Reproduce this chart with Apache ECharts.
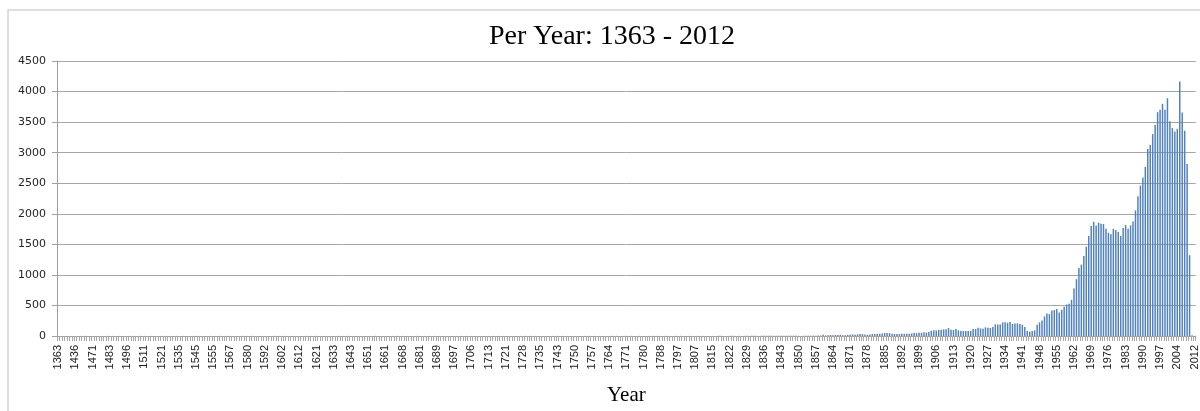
<!DOCTYPE html>
<html>
<head>
<meta charset="utf-8">
<title>Per Year: 1363 - 2012</title>
<script src="https://cdn.jsdelivr.net/npm/echarts@6/dist/echarts.min.js"></script>
<style>
  html, body { margin: 0; padding: 0; background: #fff; }
  #chart { width: 1200px; height: 411px; }
</style>
</head>
<body>
<div id="chart"></div>
<script>
// Years that have at least one record (rows of seven = one labelled tick each)
const years = [
  1363,1377,1390,1402,1415,1423,1430,
  1436,1440,1447,1453,1459,1464,1468,
  1471,1472,1474,1476,1478,1480,1482,
  1483,1485,1487,1489,1491,1493,1494,
  1496,1498,1500,1502,1504,1507,1509,
  1511,1512,1514,1515,1517,1518,1520,
  1521,1523,1525,1527,1529,1531,1533,
  1535,1536,1538,1539,1541,1542,1544,
  1545,1546,1548,1549,1551,1552,1554,
  1555,1557,1559,1560,1562,1564,1565,
  1567,1569,1571,1573,1575,1577,1578,
  1580,1582,1584,1585,1587,1589,1590,
  1592,1593,1595,1596,1598,1599,1601,
  1602,1603,1605,1606,1608,1609,1611,
  1612,1613,1614,1616,1617,1618,1620,
  1621,1623,1625,1627,1628,1630,1632,
  1633,1634,1636,1637,1639,1640,1642,
  1643,1644,1645,1647,1648,1649,1650,
  1651,1652,1654,1655,1657,1658,1660,
  1661,1662,1663,1664,1665,1666,1667,
  1668,1670,1672,1674,1676,1677,1679,
  1681,1682,1683,1685,1686,1687,1688,
  1689,1690,1691,1693,1694,1695,1696,
  1697,1698,1699,1700,1702,1703,1704,
  1706,1707,1708,1709,1710,1711,1712,
  1713,1714,1715,1716,1718,1719,1720,
  1721,1722,1723,1724,1725,1726,1727,
  1728,1729,1730,1731,1732,1733,1734,
  1735,1736,1737,1738,1740,1741,1742,
  1743,1744,1745,1746,1747,1748,1749,
  1750,1751,1752,1753,1754,1755,1756,
  1757,1758,1759,1760,1761,1762,1763,
  1764,1765,1766,1767,1768,1769,1770,
  1771,1772,1773,1775,1776,1777,1779,
  1780,1781,1782,1783,1785,1786,1787,
  1788,1789,1790,1792,1793,1794,1796,
  1797,1798,1800,1801,1803,1804,1806,
  1807,1808,1809,1810,1812,1813,1814,
  1815,1816,1817,1818,1819,1820,1821,
  1822,1823,1824,1825,1826,1827,1828,
  1829,1830,1831,1832,1833,1834,1835,
  1836,1837,1838,1839,1840,1841,1842,
  1843,1844,1845,1846,1847,1848,1849,
  1850,1851,1852,1853,1854,1855,1856,
  1857,1858,1859,1860,1861,1862,1863,
  1864,1865,1866,1867,1868,1869,1870,
  1871,1872,1873,1874,1875,1876,1877,
  1878,1879,1880,1881,1882,1883,1884,
  1885,1886,1887,1888,1889,1890,1891,
  1892,1893,1894,1895,1896,1897,1898,
  1899,1900,1901,1902,1903,1904,1905,
  1906,1907,1908,1909,1910,1911,1912,
  1913,1914,1915,1916,1917,1918,1919,
  1920,1921,1922,1923,1924,1925,1926,
  1927,1928,1929,1930,1931,1932,1933,
  1934,1935,1936,1937,1938,1939,1940,
  1941,1942,1943,1944,1945,1946,1947,
  1948,1949,1950,1951,1952,1953,1954,
  1955,1956,1957,1958,1959,1960,1961,
  1962,1963,1964,1965,1966,1967,1968,
  1969,1970,1971,1972,1973,1974,1975,
  1976,1977,1978,1979,1980,1981,1982,
  1983,1984,1985,1986,1987,1988,1989,
  1990,1991,1992,1993,1994,1995,1996,
  1997,1998,1999,2000,2001,2002,2003,
  2004,2005,2006,2007,2008,2009,2010,
  2012
];

// Number of records per year, same order as `years`
const counts = [
  1,1,1,1,1,1,1,
  1,1,1,1,2,1,1,
  1,1,1,1,1,1,2,
  1,1,2,1,1,1,1,
  1,2,1,1,1,2,1,
  1,1,1,1,2,1,1,
  2,1,1,1,1,1,2,
  1,1,2,1,1,1,1,
  1,2,1,1,2,1,1,
  1,1,1,2,1,1,1,
  2,1,1,1,1,2,1,
  1,1,2,1,1,1,1,
  1,1,1,1,2,1,2,
  1,2,1,1,1,1,1,
  1,1,1,2,1,1,1,
  2,1,1,1,1,2,1,
  1,1,2,1,1,1,2,
  1,1,1,1,2,1,1,
  2,1,1,2,1,1,1,
  1,1,2,1,1,2,1,
  1,2,1,1,1,1,2,
  1,1,1,2,1,1,1,
  2,1,1,1,2,1,1,
  1,1,2,1,1,1,2,
  1,2,1,1,2,1,1,
  1,1,1,2,1,2,1,
  2,1,1,1,1,2,1,
  1,2,1,2,1,1,2,
  1,1,2,1,2,1,1,
  2,1,1,2,1,2,1,
  1,2,1,1,2,1,2,
  2,1,2,1,1,2,1,
  1,2,1,2,2,1,2,
  2,1,2,1,2,2,1,
  1,2,2,1,2,1,2,
  2,1,2,2,1,2,2,
  1,2,2,1,2,2,1,
  2,2,1,2,2,1,2,
  2,1,2,3,2,2,1,
  2,3,2,2,3,2,3,
  3,2,4,3,3,2,4,
  3,4,3,5,4,3,4,
  4,5,3,4,6,5,4,
  3,2,4,3,5,4,6,
  5,8,7,22,9,11,16,
  12,18,17,20,14,12,19,
  22,25,21,27,33,30,24,
  20,26,33,31,36,38,42,
  49,50,47,36,33,34,31,
  35,36,38,35,41,49,47,
  55,52,60,56,65,87,95,
  92,98,103,109,109,130,103,
  98,114,92,82,82,82,82,
  82,114,114,136,125,120,141,
  136,130,147,190,190,190,223,
  223,217,228,196,206,206,196,
  185,147,82,71,82,92,185,
  223,255,321,370,359,418,424,
  440,386,429,478,516,527,592,
  777,929,1114,1168,1310,1462,1636,
  1799,1870,1810,1853,1837,1832,1755,
  1690,1663,1755,1734,1701,1636,1766,
  1815,1755,1810,1875,2054,2288,2462,
  2592,2766,3060,3125,3304,3451,3663,
  3701,3799,3701,3891,3516,3402,3348,
  3391,4163,3658,3359,2815,1321,12,
  3
];

// Value axis scale
const yMax = 4500;
const yStep = 500;

const chart = echarts.init(document.getElementById('chart'), null, { renderer: 'canvas' });

chart.setOption({
  animation: false,
  backgroundColor: '#ffffff',
  title: {
    text: 'Per Year: 1363 - 2012',
    left: 607,
    textAlign: 'center',
    top: 18,
    textStyle: {
      fontFamily: 'Liberation Serif',
      fontSize: 28,
      fontWeight: 'normal',
      color: '#000000'
    }
  },
  graphic: [{
    type: 'rect',
    silent: true,
    z: -1,
    shape: { x: 8, y: 10, width: 1210, height: 430 },
    style: { fill: 'none', stroke: '#d4d4d4', lineWidth: 1.5 }
  }],
  grid: { left: 57, right: 1, top: 61, bottom: 74, containLabel: false },
  xAxis: {
    type: 'category',
    data: years.map(String),
    name: 'Year',
    nameLocation: 'middle',
    nameGap: 49,
    nameTextStyle: { fontFamily: 'Liberation Serif', fontSize: 21, color: '#000000' },
    axisLine: { lineStyle: { color: '#a0a0a0', width: 1 } },
    axisTick: { show: true, interval: 0, length: 5, lineStyle: { color: '#a8a8a8' } },
    axisLabel: {
      interval: 6,
      rotate: 90,
      margin: 9,
      fontFamily: 'Liberation Sans Narrow, Liberation Sans',
      fontSize: 11,
      color: '#1a1a1a'
    },
    splitLine: { show: false }
  },
  yAxis: {
    type: 'value',
    min: 0,
    max: yMax,
    interval: yStep,
    axisLine: { show: true, lineStyle: { color: '#a0a0a0', width: 1 } },
    axisTick: { show: true, length: 5, lineStyle: { color: '#a0a0a0' } },
    axisLabel: {
      margin: 11,
      fontFamily: 'DejaVu Sans',
      fontSize: 11,
      color: '#262626',
      formatter: (v) => String(v)
    },
    splitLine: { show: true, lineStyle: { color: '#a6a6a6', width: 1 } }
  },
  series: [{
    type: 'bar',
    data: counts,
    barCategoryGap: '40%',
    itemStyle: { color: '#4f81bd' }
  }]
});
</script>
</body>
</html>
